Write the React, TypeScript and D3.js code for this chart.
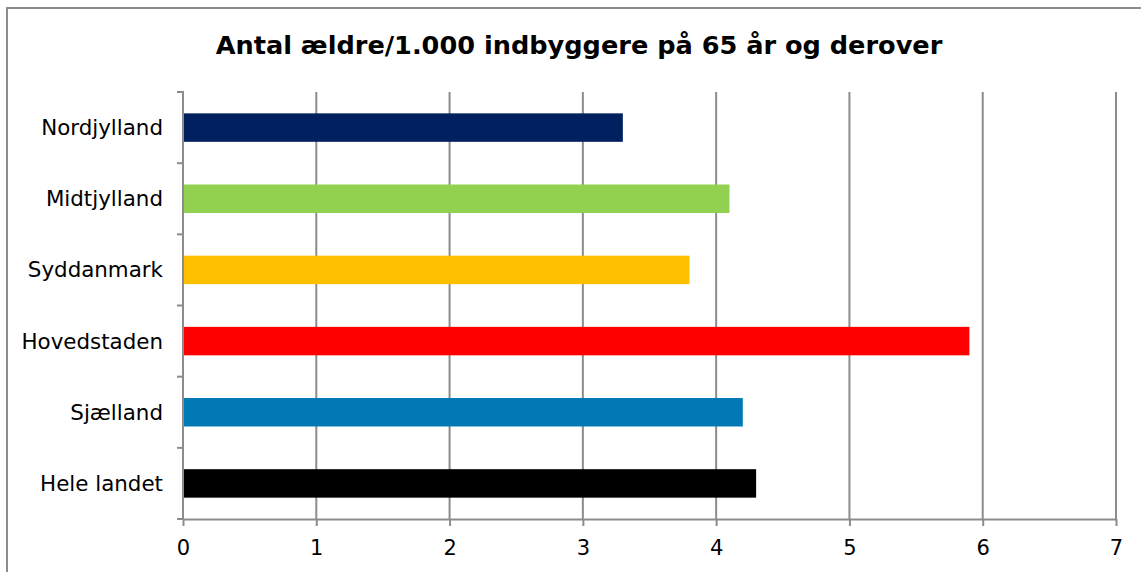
import { useEffect, useRef } from 'react'
import * as d3 from 'd3'

const regions = ['Nordjylland', 'Midtjylland', 'Syddanmark', 'Hovedstaden', 'Sjælland', 'Hele landet']
const values = [3.3, 4.1, 3.8, 5.9, 4.2, 4.3]
const barColors = ['#002060', '#92D050', '#FFC000', '#FF0000', '#0079B4', '#000000']
const xTicks = [0, 1, 2, 3, 4, 5, 6, 7]
const title = 'Antal ældre/1.000 indbyggere på 65 år og derover'

export default function App() {
  const svgRef = useRef<SVGSVGElement>(null)

  useEffect(() => {
    const W = 1141
    const H = 572
    const margin = { top: 92, right: 25, bottom: 53, left: 183 }
    const innerW = W - margin.left - margin.right
    const innerH = H - margin.top - margin.bottom
    const font = '"DejaVu Sans", Verdana, sans-serif'
    const grey = '#8c8c8c'

    const svg = d3.select(svgRef.current)
    svg.selectAll('*').remove()
    svg.attr('width', W).attr('height', H)

    svg.append('rect').attr('width', W).attr('height', H).attr('fill', '#fff')

    // outer chart frame
    svg.append('rect')
      .attr('x', 7).attr('y', 8)
      .attr('width', W + 20).attr('height', H + 20)
      .attr('fill', 'none').attr('stroke', grey).attr('stroke-width', 2)

    svg.append('text')
      .attr('x', 579).attr('y', 54)
      .attr('text-anchor', 'middle')
      .attr('font-family', font).attr('font-weight', 'bold').attr('font-size', 25.6)
      .attr('fill', '#000')
      .text(title)

    const x = d3.scaleLinear().domain([0, 7]).range([0, innerW])
    const y = d3.scaleBand().domain(regions).range([0, innerH]).paddingInner(0.6).paddingOuter(0.3)

    const g = svg.append('g').attr('transform', `translate(${margin.left},${margin.top})`)

    // vertical grid
    g.append('g')
      .selectAll('line')
      .data(xTicks.slice(1))
      .join('line')
      .attr('x1', (d) => x(d)).attr('x2', (d) => x(d))
      .attr('y1', 0).attr('y2', innerH)
      .attr('stroke', grey).attr('stroke-width', 2)

    // bars
    g.append('g')
      .selectAll('rect')
      .data(regions)
      .join('rect')
      .attr('x', 0)
      .attr('y', (d) => y(d)!)
      .attr('width', (_, i) => x(values[i]))
      .attr('height', y.bandwidth())
      .attr('fill', (_, i) => barColors[i])

    // category axis
    const step = innerH / regions.length
    g.append('g')
      .selectAll('line')
      .data(d3.range(regions.length + 1))
      .join('line')
      .attr('x1', -6).attr('x2', 0)
      .attr('y1', (i) => i * step).attr('y2', (i) => i * step)
      .attr('stroke', grey).attr('stroke-width', 2)

    g.append('line')
      .attr('x1', 0).attr('x2', 0).attr('y1', -1).attr('y2', innerH + 1)
      .attr('stroke', grey).attr('stroke-width', 2)

    g.append('g')
      .selectAll('text')
      .data(regions)
      .join('text')
      .attr('x', -20)
      .attr('y', (d) => y(d)! + y.bandwidth() / 2)
      .attr('dy', '0.35em')
      .attr('text-anchor', 'end')
      .attr('font-family', font).attr('font-size', 21.4)
      .attr('fill', '#000')
      .text((d) => d)

    // value axis
    g.append('g')
      .attr('transform', `translate(0,${innerH})`)
      .call(d3.axisBottom(x).tickValues(xTicks).tickSize(7).tickSizeOuter(0).tickFormat(d3.format('d')))
      .call((ax) => ax.select('.domain').attr('stroke', grey).attr('stroke-width', 2))
      .call((ax) => ax.selectAll('.tick line').attr('stroke', grey).attr('stroke-width', 2))
      .call((ax) => ax.selectAll('.tick text')
        .attr('y', 21).attr('dy', '0.71em')
        .attr('fill', '#000').attr('font-family', font).attr('font-size', 21))
  }, [])

  return (
    <div style={{ position: 'absolute', left: 0, top: 0 }}>
      <svg ref={svgRef} style={{ display: 'block' }} />
    </div>
  )
}
